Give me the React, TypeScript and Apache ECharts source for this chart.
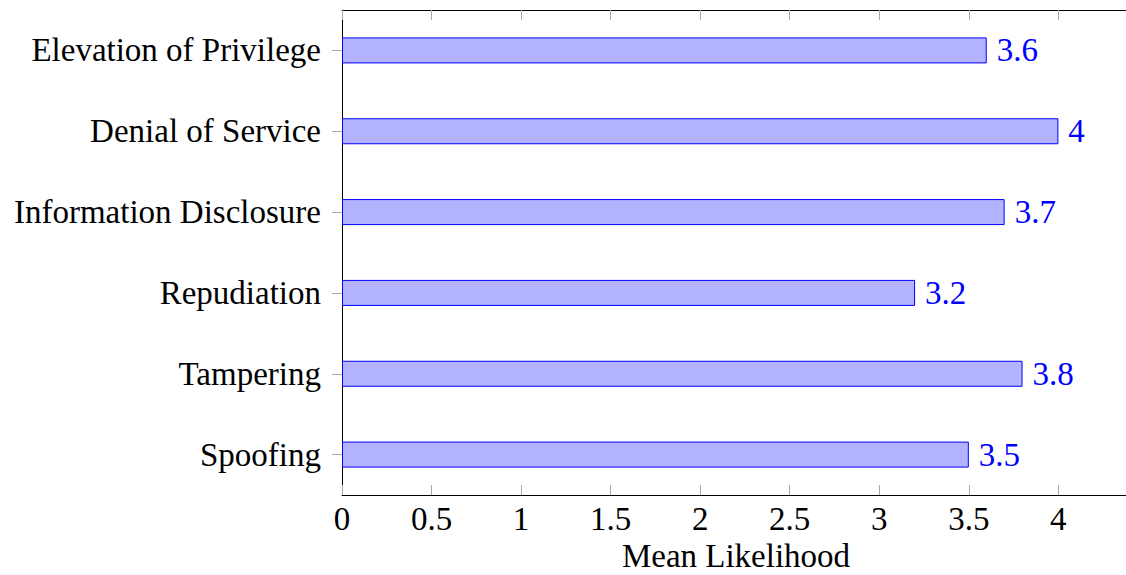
import React, { useEffect, useRef } from "react";
import * as echarts from "echarts";

const categories = ["Spoofing", "Tampering", "Repudiation", "Information Disclosure", "Denial of Service", "Elevation of Privilege"];
const values = [3.5, 3.8, 3.2, 3.7, 4, 3.6];
const xAxisName = "Mean Likelihood";

const FONT = "'Liberation Serif', serif";
const FS = 33;

export default function App() {
  const ref = useRef<HTMLDivElement>(null);
  useEffect(() => {
    if (!ref.current) return;
    document.body.style.overflow = "hidden";
    const chart = echarts.init(ref.current, undefined, { renderer: "svg" });
    const xCommon = {
      type: "value" as const,
      min: 0,
      max: 4.4,
      interval: 0.5,
      splitLine: { show: false },
      axisLine: { show: true, lineStyle: { color: "#000", width: 1 } },
      axisTick: { show: true, inside: true, length: 10, lineStyle: { color: "#aaa", width: 1 } },
    };
    chart.setOption({
      animation: false,
      backgroundColor: "#fff",
      grid: { left: 342, top: 10, width: 788, height: 485, containLabel: false, outerBoundsMode: "none" },
      xAxis: [
        {
          ...xCommon,
          position: "bottom",
          name: xAxisName,
          nameLocation: "middle",
          nameGap: 54,
          nameTextStyle: { fontFamily: FONT, fontSize: FS, lineHeight: 26, color: "#000", verticalAlign: "middle" },
          axisLabel: { fontFamily: FONT, fontSize: FS, color: "#000", margin: 7, showMaxLabel: false },
        },
        {
          ...xCommon,
          position: "top",
          axisLabel: { show: false },
        },
      ],
      yAxis: {
        type: "category",
        data: categories,
        axisLine: { show: true, lineStyle: { color: "#000", width: 1 } },
        axisTick: { show: true, alignWithLabel: true, length: 10, lineStyle: { color: "#aaa", width: 1 } },
        axisLabel: { fontFamily: FONT, fontSize: FS, color: "#000", margin: 21 },
        splitLine: { show: false },
      },
      series: [
        {
          type: "bar",
          data: values,
          barWidth: 26,
          itemStyle: { color: "#b3b3ff", borderColor: "#0000ff", borderWidth: 1 },
          label: {
            show: true,
            position: "right",
            distance: 10,
            fontFamily: FONT,
            fontSize: FS,
            color: "#0000ff",
          },
        },
      ],
    });
    return () => chart.dispose();
  }, []);
  return (
    <div style={{ position: "fixed", left: 0, top: 0, width: 1126, height: 575, overflow: "hidden" }}>
      <div ref={ref} style={{ position: "absolute", left: 0, top: 0, width: 1160, height: 575 }} />
    </div>
  );
}
